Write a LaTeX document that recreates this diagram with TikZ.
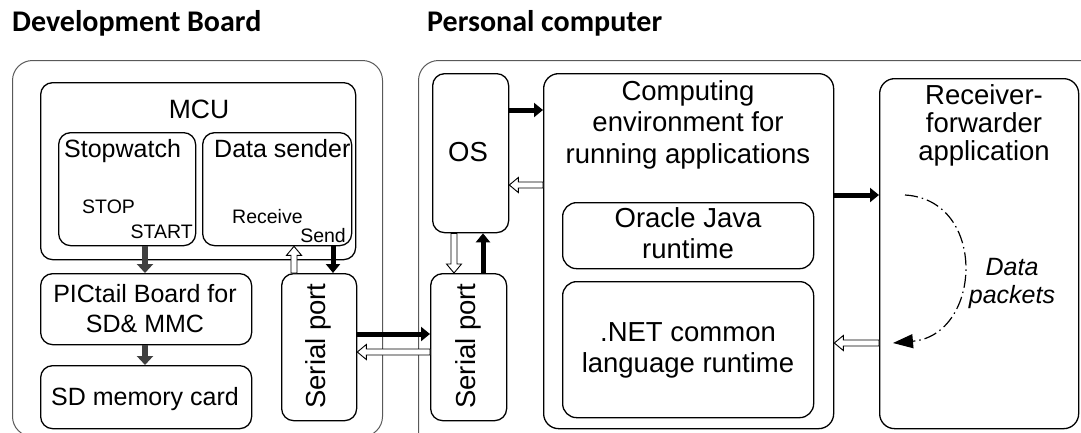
\documentclass[tikz,border=0pt]{standalone}
\usepackage{fontspec}
\setmainfont{Liberation Sans}
\newfontfamily\titlefont{Carlito}
\usetikzlibrary{arrows.meta,calc}
\newcommand\mlines[1]{\begin{tabular}[t]{@{}c@{}}#1\end{tabular}}
\begin{document}
\begin{tikzpicture}[x=1pt,y=-1pt,
  outer/.style={draw=black!65, line width=1pt, rounded corners=20pt, inner sep=0pt, anchor=north west},
  box/.style={draw=black, line width=1.3pt, rounded corners=12pt, inner sep=0pt, anchor=north west},
  title/.style={inner sep=0pt, anchor=base west, font=\titlefont\bfseries\fontsize{30}{34}\selectfont},
  lblL/.style={inner sep=0pt, font=\fontsize{25}{30}\selectfont},
  lblM/.style={inner sep=0pt, font=\fontsize{26.5}{31}\selectfont},
  lblR/.style={inner sep=0pt, font=\fontsize{27.5}{31.5}\selectfont},
  lblS/.style={inner sep=0pt, font=\fontsize{19.5}{22}\selectfont},
  blk/.style={draw=black, line width=5pt, -{Triangle[length=9pt,width=14pt]}},
  grayarr/.style={draw=black!75, line width=6pt, -{Triangle[length=9pt,width=16pt]}},
  hollow/.style={draw=black, fill=white, line width=0.9pt, to path={
    ($(\tikztostart)!3pt!90:(\tikztotarget)$)
    -- ($($(\tikztotarget)!9pt!(\tikztostart)$)!3pt!90:(\tikztotarget)$)
    -- ($($(\tikztotarget)!9pt!(\tikztostart)$)!7.5pt!90:(\tikztotarget)$)
    -- (\tikztotarget)
    -- ($($(\tikztotarget)!9pt!(\tikztostart)$)!7.5pt!-90:(\tikztotarget)$)
    -- ($($(\tikztotarget)!9pt!(\tikztostart)$)!3pt!-90:(\tikztotarget)$)
    -- ($(\tikztostart)!3pt!-90:(\tikztotarget)$) -- cycle}},
  dashdotarc/.style={draw=black, line width=1.2pt, dash pattern=on 13pt off 4pt on 1.5pt off 4pt,
    -{Triangle[length=20pt,width=14pt]}}
]
\useasboundingbox (0,0) rectangle (1081,432);
\clip (0,0) rectangle (1081,432);

% titles
\node[title] (t1) at (12,31) {Development Board};
\node[title] (t2) at (427,31) {Personal computer};

% outer containers
\node[outer, minimum width=370pt, minimum height=376pt] (devb) at (12,60) {};
\node[outer, minimum width=700pt, minimum height=392pt] (pc) at (418,60) {};

% development board
\node[box, minimum width=315pt, minimum height=177pt] (mcu) at (40,82) {};
\node[box, minimum width=137pt, minimum height=113pt] (sw) at (58,132) {};
\node[box, minimum width=149pt, minimum height=113pt] (ds) at (202,132) {};
\node[box, minimum width=211pt, minimum height=71pt] (pic) at (40,273) {};
\node[box, minimum width=211pt, minimum height=63pt] (sd) at (40,365) {};
\node[box, minimum width=75pt, minimum height=147pt] (sp1) at (281,273) {};

\node[lblM, anchor=base] (mcut) at (199,118) {MCU};
\node[lblL, anchor=base west] (swt) at (64,157) {Stopwatch};
\node[lblL, anchor=base west] (dst) at (214,157) {Data sender};
\node[lblS, anchor=base west] (stop) at (82,213) {STOP};
\node[lblS, anchor=base east] (start) at (193,238) {START};
\node[lblS, anchor=base west] (recv) at (232,223) {Receive};
\node[lblS, anchor=base east] (send) at (346,242) {Send};
\node[lblL, anchor=base] (pict) at (145,302) {\mlines{PICtail Board for\\SD\& MMC}};
\node[lblL, anchor=base] (sdt) at (145,405) {SD memory card};
\node[lblR, rotate=90] (sp1t) at (318,346) {Serial port};

% personal computer
\node[box, minimum width=76pt, minimum height=147pt] (sp2) at (430,273) {};
\node[box, minimum width=76pt, minimum height=159pt] (os) at (432,73) {};
\node[box, rounded corners=15pt, minimum width=290pt, minimum height=355pt] (ce) at (543,73) {};
\node[box, rounded corners=14pt, minimum width=251pt, minimum height=66pt] (oj) at (562,202) {};
\node[box, rounded corners=14pt, minimum width=251pt, minimum height=136pt] (net) at (562,281) {};
\node[box, rounded corners=15pt, minimum width=199pt, minimum height=350pt] (rf) at (879,78) {};

\node[lblR, rotate=90] (sp2t) at (468,346) {Serial port};
\node[lblR, anchor=base] (ost) at (468,161) {OS};
\node[lblR, anchor=base] (cet) at (688,100) {\mlines{Computing\\environment for\\running applications}};
\node[lblR, anchor=base] (ojt) at (688,227) {\mlines{Oracle Java\\runtime}};
\node[lblR, anchor=base] (nett) at (688,341) {\mlines{.NET common\\language runtime}};
\node[lblR, anchor=base, font=\fontsize{27.5}{27}\selectfont] (rft) at (984,104) {\mlines{Receiver-\\forwarder\\application}};
\node[inner sep=0pt, anchor=base, font=\itshape\fontsize{25}{28}\selectfont] (dpt) at (1012,275) {\mlines{Data\\packets}};

% helper coordinates for connector lanes
\coordinate (xg) at (145,0);
\coordinate (xh1) at (294,0);
\coordinate (xb1) at (333,0);
\coordinate (xh2) at (454,0);
\coordinate (xb2) at (483,0);
\coordinate (yb1) at (0,334);
\coordinate (yh1) at (0,352);
\coordinate (yb2) at (0,110);
\coordinate (yh2) at (0,185);
\coordinate (yb3) at (0,195);
\coordinate (yh3) at (0,343);

% connectors
\draw[grayarr] (sw.south -| xg) -- (pic.north -| xg);
\draw[grayarr] (pic.south -| xg) -- (sd.north -| xg);
\draw[hollow] (sp1.north -| xh1) to (ds.south -| xh1);
\draw[blk] (ds.south -| xb1) -- (sp1.north -| xb1);
\draw[blk] (sp1.east |- yb1) -- (sp2.west |- yb1);
\draw[hollow] (sp2.west |- yh1) to (sp1.east |- yh1);
\draw[hollow] (os.south -| xh2) to (sp2.north -| xh2);
\draw[blk] (sp2.north -| xb2) -- (os.south -| xb2);
\draw[blk] (os.east |- yb2) -- (ce.west |- yb2);
\draw[hollow] (ce.west |- yh2) to (os.east |- yh2);
\draw[blk] (ce.east |- yb3) -- (rf.west |- yb3);
\draw[hollow] (rf.west |- yh3) to (ce.east |- yh3);

% data packets loop
\coordinate (dpS) at (905,195);
\coordinate (dpE) at (893,343);
\draw[dashdotarc] (dpS) .. controls (988,200) and (982,335) .. (dpE);
\end{tikzpicture}
\end{document}
